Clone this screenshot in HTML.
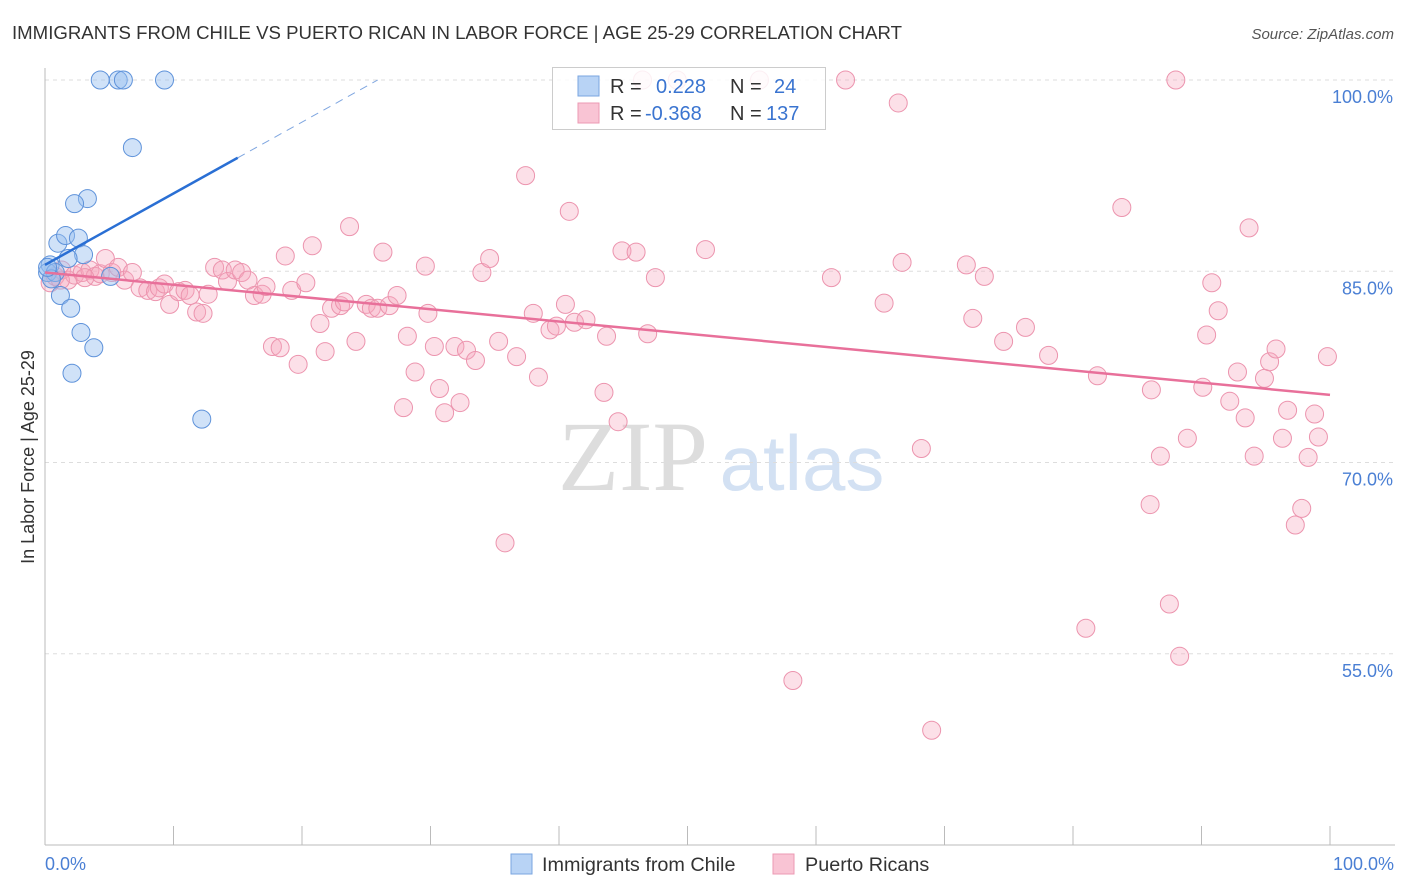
<!DOCTYPE html>
<html><head><meta charset="utf-8"><style>
body{margin:0;background:#fff;font-family:"Liberation Sans",sans-serif;}
#wrap{position:relative;width:1406px;height:892px;overflow:hidden;}
</style></head><body>
<div id="wrap">
<svg id="svg" width="1406" height="892" xmlns="http://www.w3.org/2000/svg">
<text x="12" y="39" font-size="18" fill="#333" textLength="890" lengthAdjust="spacingAndGlyphs">IMMIGRANTS FROM CHILE VS PUERTO RICAN IN LABOR FORCE | AGE 25-29 CORRELATION CHART</text>
<text x="1394" y="39" font-size="15" fill="#555" font-style="italic" text-anchor="end">Source: ZipAtlas.com</text>
<g>
<text x="633" y="490" font-size="100" fill="#ddd" font-family="Liberation Serif,serif" text-anchor="middle">ZIP</text>
<text x="802" y="490" font-size="78" fill="#d3e1f3" text-anchor="middle">atlas</text>
</g>
<g id="grid"></g>
<g id="axes"></g>
<g id="pts"></g>
<g id="trend"></g>
<text transform="translate(34,457) rotate(-90)" font-size="18" fill="#333" text-anchor="middle">In Labor Force | Age 25-29</text>
<text x="45" y="870" font-size="18" fill="#4a7fd4">0.0%</text>
<text x="1394" y="870" font-size="18" fill="#4a7fd4" text-anchor="end">100.0%</text>
<g>
<rect x="552.5" y="67.5" width="273" height="62" fill="rgba(255,255,255,0.85)" stroke="#ccc"/>
<rect x="578" y="76" width="21" height="20" fill="#b8d3f5" stroke="#7aa6e0"/>
<rect x="578" y="103" width="21" height="20" fill="#f9c4d4" stroke="#ec9ab3"/>
<text x="610" y="93" font-size="20" fill="#333">R =</text>
<text x="656" y="93" font-size="20" fill="#3a74d0">0.228</text>
<text x="730" y="93" font-size="20" fill="#333">N =</text>
<text x="774" y="93" font-size="20" fill="#3a74d0">24</text>
<text x="610" y="120" font-size="20" fill="#333">R =</text>
<text x="645" y="120" font-size="20" fill="#3a74d0">-0.368</text>
<text x="730" y="120" font-size="20" fill="#333">N =</text>
<text x="766" y="120" font-size="20" fill="#3a74d0">137</text>
</g>
<g>
<rect x="511" y="854" width="21" height="20" fill="#b8d3f5" stroke="#7aa6e0"/>
<text x="542" y="871" font-size="19.8" fill="#333">Immigrants from Chile</text>
<rect x="773" y="854" width="21" height="20" fill="#f9c4d4" stroke="#ec9ab3"/>
<text x="805" y="871" font-size="19.8" fill="#333">Puerto Ricans</text>
</g>
</svg>
</div>
<script>
const yTicks=[55,70,85,100];
const yTickLabels=["55.0%","70.0%","85.0%","100.0%"];
const blueX=[4.3,5.7,6.1,9.3,6.8,3.3,2.3,1.0,1.6,2.6,3.0,1.8,0.4,0.2,0.8,0.5,1.2,2.0,2.8,3.8,2.1,12.2,5.1,0.2];
const blueY=[100,100,100,100,94.7,90.7,90.3,87.2,87.8,87.6,86.3,86.0,85.5,84.9,84.9,84.4,83.1,82.1,80.2,79.0,77.0,73.4,84.6,85.3];
const pinkX=[0.4,0.8,1.3,1.8,2.3,2.9,3.5,3.9,4.3,4.7,5.2,5.7,6.2,6.8,7.4,8.0,8.6,8.9,9.3,9.7,10.4,10.9,11.3,11.8,12.3,12.7,13.2,13.8,14.2,14.8,15.3,15.8,16.3,16.9,17.2,17.7,18.3,18.7,19.2,19.7,20.3,20.8,21.4,21.8,22.3,23.0,23.3,23.7,24.2,25.0,25.4,25.9,26.3,26.8,27.4,27.9,28.2,28.8,29.6,29.8,30.3,30.7,31.1,31.9,32.3,32.8,33.5,34.0,34.6,35.3,35.8,36.7,37.4,38.0,38.4,39.3,39.8,40.5,40.8,41.2,42.1,43.5,43.7,44.6,44.9,46.0,46.9,47.5,51.4,58.2,61.2,62.3,65.3,66.4,66.7,68.2,69.0,71.7,72.2,73.1,74.6,76.3,78.1,81.0,81.9,83.8,86.0,86.1,86.8,87.5,88.0,88.3,88.9,90.1,90.4,90.8,91.3,92.2,92.8,93.4,93.7,94.1,94.9,95.3,95.8,96.3,96.7,97.3,97.8,98.3,98.8,99.1,99.8,46.5,49.2,55.6,1.2,3.1];
const pinkY=[84.1,84.6,85.1,84.3,84.7,84.9,85.1,84.6,84.8,86.0,84.9,85.3,84.3,84.9,83.7,83.5,83.4,83.7,84.0,82.4,83.4,83.5,83.1,81.8,81.7,83.2,85.3,85.1,84.2,85.1,84.9,84.3,83.1,83.2,83.8,79.1,79.0,86.2,83.5,77.7,84.1,87.0,80.9,78.7,82.1,82.3,82.6,88.5,79.5,82.4,82.1,82.1,86.5,82.3,83.1,74.3,79.9,77.1,85.4,81.7,79.1,75.8,73.9,79.1,74.7,78.8,78.0,84.9,86.0,79.5,63.7,78.3,92.5,81.7,76.7,80.4,80.7,82.4,89.7,81.0,81.2,75.5,79.9,73.2,86.6,86.5,80.1,84.5,86.7,52.9,84.5,100,82.5,98.2,85.7,71.1,49.0,85.5,81.3,84.6,79.5,80.6,78.4,57.0,76.8,90.0,66.7,75.7,70.5,58.9,100,54.8,71.9,75.9,80.0,84.1,81.9,74.8,77.1,73.5,88.4,70.5,76.6,77.9,78.9,71.9,74.1,65.1,66.4,70.4,73.8,72.0,78.3,100,100,100,84.3,84.5];
const blueTrend=[85.5,0.56];
const pinkTrend=[84.9,-0.096];
const NS="http://www.w3.org/2000/svg";
const X0=45,X1=1330,Y100=80,PPU=12.75;
const sx=v=>X0+(X1-X0)*v/100;
const sy=v=>Y100+(100-v)*PPU;
function mk(tag,attrs,parent){const e=document.createElementNS(NS,tag);for(const k in attrs)e.setAttribute(k,attrs[k]);parent.appendChild(e);return e;}
const grid=document.getElementById('grid'),axes=document.getElementById('axes'),pts=document.getElementById('pts'),trend=document.getElementById('trend');
yTicks.forEach((t,i)=>{
 const l=mk('line',{x1:45,x2:1395,y1:sy(t),y2:sy(t),stroke:'#ddd','stroke-dasharray':'4,4'},grid);
 
 
 const tx=mk('text',{x:1393,y:sy(t)+23,'font-size':18,fill:'#4a7fd4','text-anchor':'end'},grid);
 tx.textContent=yTickLabels[i];
 
 
});
const ya=mk('line',{x1:45,x2:45,y1:68,y2:845,stroke:'#bbb'},axes);


const xa=mk('line',{x1:45,x2:1395,y1:845,y2:845,stroke:'#bbb'},axes);


for(let k=0;k<=10;k++){
 const tk=mk('line',{x1:sx(k*10),x2:sx(k*10),y1:826,y2:845,stroke:'#bbb'},axes);
 
 
}
pinkX.forEach((x,i)=>{
 const c=mk('circle',{cx:sx(x),cy:sy(pinkY[i]),r:9,fill:'rgba(245,165,190,0.35)',stroke:'#ec94ae','stroke-width':1},pts);
 
 
});
blueX.forEach((x,i)=>{
 const c=mk('circle',{cx:sx(x),cy:sy(blueY[i]),r:9,fill:'rgba(150,190,240,0.45)',stroke:'#5e92da','stroke-width':1},pts);
 
 
});
const pl=mk('line',{x1:sx(0),y1:sy(pinkTrend[0]),x2:sx(100),y2:sy(pinkTrend[0]+100*pinkTrend[1]),stroke:'#e8709a','stroke-width':2.5},trend);


const xEnd=(100-blueTrend[0])/blueTrend[1];
const bl=mk('line',{x1:sx(0),y1:sy(blueTrend[0]),x2:sx(15),y2:sy(blueTrend[0]+15*blueTrend[1]),stroke:'#2a6fd4','stroke-width':2.5},trend);


const bd=mk('line',{x1:sx(15),y1:sy(blueTrend[0]+15*blueTrend[1]),x2:sx(xEnd),y2:sy(100),stroke:'#7fa6e0','stroke-width':1,'stroke-dasharray':'8,6'},trend);


</script>
</body></html>
